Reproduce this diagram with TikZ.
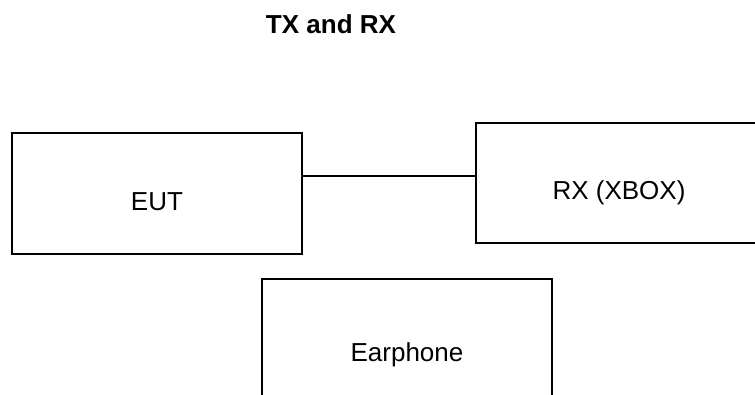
\documentclass[tikz,border=0pt]{standalone}
\usepackage{fontspec}
\setmainfont{Liberation Sans}
\usetikzlibrary{positioning}

\begin{document}
\begin{tikzpicture}[
    unit/.style={draw, line width=0.75pt, minimum width=5.8cm, minimum height=2.42cm, align=center, text height=0.67cm, text depth=0pt, font=\fontsize{14.8}{17}\selectfont},
    link/.style={line width=0.75pt},
    title/.style={font=\fontsize{14.8}{17}\selectfont\bfseries},
]

\useasboundingbox (0,0) rectangle (15.1,-7.88);

\node[title] (head) at (6.62,-0.48) {TX and RX};

\node[unit] (eut) at (3.14,-3.87) {EUT};
\node[unit, minimum width=5.72cm, minimum height=2.4cm] (rx) at (12.38,-3.66) {RX (XBOX)};
\node[unit, minimum height=2.64cm] (ear) at (8.14,-6.9) {Earphone};

\coordinate (tap) at (0,-3.52);
\draw[link] (eut.east |- tap) -- (rx.west |- tap);

\end{tikzpicture}
\end{document}
